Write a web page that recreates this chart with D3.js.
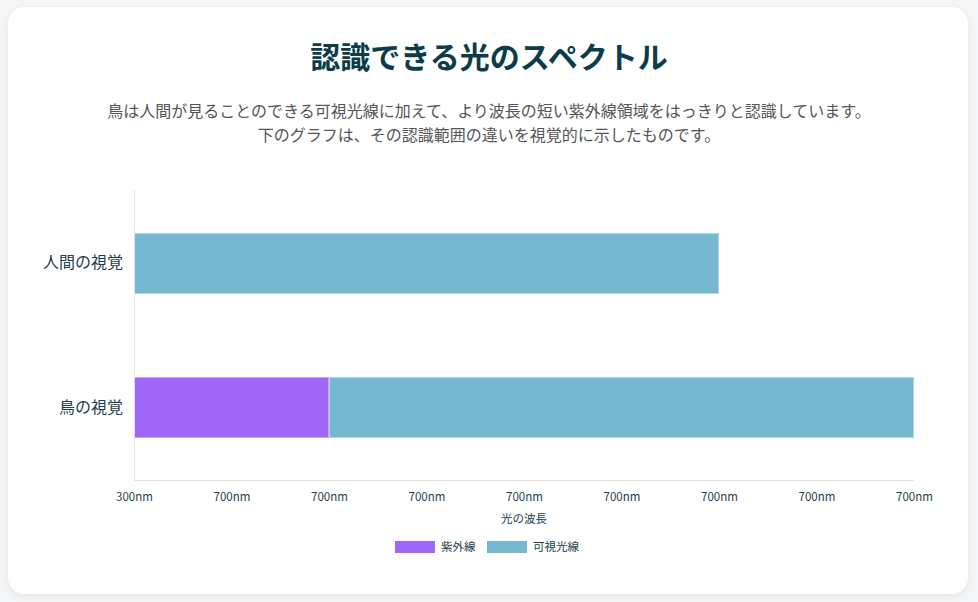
<!DOCTYPE html>
<html><head><meta charset="utf-8">
<script src="https://cdn.jsdelivr.net/npm/d3@7"></script>
<style>
html,body{margin:0;padding:0;background:#f5f6f8;width:978px;height:602px;overflow:hidden;font-family:"Noto Sans CJK JP","Noto Sans",sans-serif;}
.card{position:absolute;left:8px;top:7px;width:960px;height:587px;background:#fff;border-radius:16px;box-shadow:0 2px 8px rgba(0,0,0,0.08);}
h1{position:absolute;left:0;top:33px;width:978px;margin:0;text-align:center;font-size:30px;font-weight:700;color:#0b3c49;line-height:44px;}
p.sub{position:absolute;left:0;top:98px;width:978px;margin:0;text-align:center;font-size:16px;color:#555;line-height:24px;}
svg{position:absolute;left:0;top:0;}
</style></head>
<body>
<div class="card"></div>
<h1>認識できる光のスペクトル</h1>
<p class="sub">鳥は人間が見ることのできる可視光線に加えて、より波長の短い紫外線領域をはっきりと認識しています。<br>下のグラフは、その認識範囲の違いを視覚的に示したものです。</p>
<svg id="chart" width="978" height="602"></svg>
<script>
const categories = ["人間の視覚", "鳥の視覚"];
const seriesNames = ["紫外線", "可視光線"];
const uvValues = [0, 100];
const visibleValues = [300, 300];
const tickValues = [0, 50, 100, 150, 200, 250, 300, 350, 400];
const tickLabels = ["300nm", "700nm", "700nm", "700nm", "700nm", "700nm", "700nm", "700nm", "700nm"];
const colors = ["#a066f8", "#76b8cf"];
const borderColors = ["#c9a6fb", "#a9d6e6"];

const svg = d3.select("#chart");
const L = 134, R = 914, T = 191, B = 480;
const x = d3.scaleLinear().domain([0, 400]).range([L, R]);
const y = d3.scaleBand().domain(categories).range([T, B]);
const barH = 61;

const rows = categories.map((c, i) => ({cat: c, uv: uvValues[i], vis: visibleValues[i]}));
const stack = d3.stack().keys(["uv", "vis"])(rows);

const g = svg.append("g");
stack.forEach((layer, li) => {
  g.selectAll(null).data(layer.filter(d => d[1] - d[0] > 0)).enter().append("rect")
    .attr("x", d => x(d[0]) + 0.5)
    .attr("y", d => Math.round(y(d.data.cat) + y.bandwidth() / 2 - barH / 2) + 0.5)
    .attr("width", d => x(d[1]) - x(d[0]) - 1)
    .attr("height", barH - 1)
    .attr("fill", colors[li])
    .attr("stroke", borderColors[li])
    .attr("stroke-width", 1);
});

// axes lines
svg.append("line").attr("x1", L + 0.5).attr("x2", L + 0.5).attr("y1", 190).attr("y2", B).attr("stroke", "#e3e3e3");
svg.append("line").attr("x1", L).attr("x2", R).attr("y1", B + 0.5).attr("y2", B + 0.5).attr("stroke", "#e3e3e3");

// x axis
const xAxis = d3.axisBottom(x).tickValues(tickValues).tickFormat((d, i) => tickLabels[i]).tickSize(0).tickPadding(13);
const xg = svg.append("g").attr("transform", `translate(0,${B})`).call(xAxis);
xg.select(".domain").remove();
xg.selectAll("text").attr("fill", "#1d3e4a").style("font-size", "11.5px").style("font-family", '"Noto Sans CJK JP",sans-serif');

// y axis
const yAxis = d3.axisLeft(y).tickSize(0).tickPadding(11);
const yg = svg.append("g").attr("transform", `translate(${L},0)`).call(yAxis);
yg.select(".domain").remove();
yg.selectAll("text").attr("fill", "#1d3e4a").style("font-size", "16px").style("font-family", '"Noto Sans CJK JP",sans-serif');

// axis title
svg.append("text").attr("x", (L + R) / 2).attr("y", 523).attr("text-anchor", "middle")
  .attr("fill", "#1d3e4a").style("font-size", "11.5px").text("光の波長");

// legend
const legendX = [395, 487];
seriesNames.forEach((s, i) => {
  svg.append("rect").attr("x", legendX[i]).attr("y", 541).attr("width", 40).attr("height", 12).attr("fill", colors[i]);
  svg.append("text").attr("x", legendX[i] + 46).attr("y", 551).attr("fill", "#1d3e4a").style("font-size", "11.5px").text(s);
});
</script>
</body></html>
